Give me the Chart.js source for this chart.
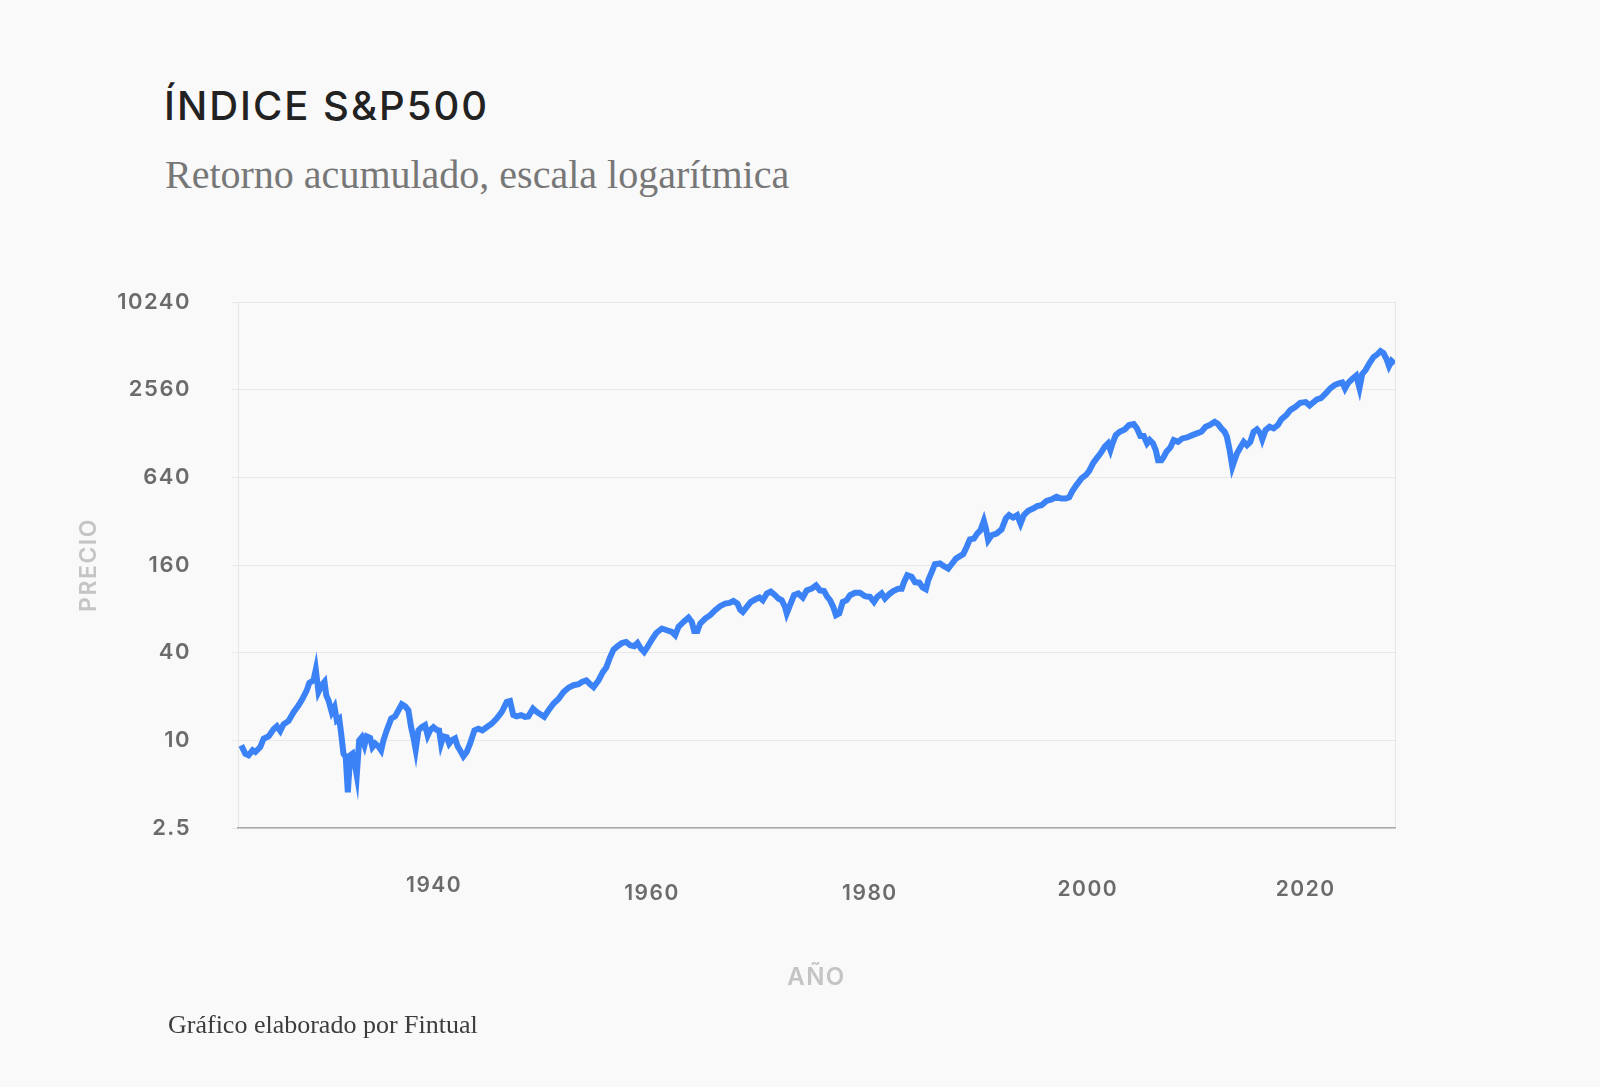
<!DOCTYPE html>
<html lang="es">
<head>
<meta charset="utf-8">
<title>Índice S&amp;P500</title>
<script src="https://cdn.jsdelivr.net/npm/chart.js@4.4.1/dist/chart.umd.min.js"></script>
<style>
  html, body { margin: 0; padding: 0; background: #f9f9f9; }
  body { width: 1600px; height: 1087px; position: relative; overflow: hidden; }
  #grafico { position: absolute; left: 0; top: 0; }
  .titulo { position: absolute; left: 164px; top: 86px; margin: 0; line-height: 1;
    font-family: 'Inter', 'Noto Sans', sans-serif; font-weight: 500; font-size: 40px;
    letter-spacing: 2px; color: #222; }
  .subtitulo { position: absolute; left: 165px; top: 155px; margin: 0; line-height: 1;
    font-family: 'Liberation Serif', 'DejaVu Serif', serif; font-size: 40px; color: #777; }
  .pie { position: absolute; left: 168px; top: 1012px; margin: 0; line-height: 1;
    font-family: 'Liberation Serif', 'DejaVu Serif', serif; font-size: 26px; color: #3c3c3c; }
</style>
</head>
<body>
<h1 class="titulo">ÍNDICE S&amp;P500</h1>
<p class="subtitulo">Retorno acumulado, escala logarítmica</p>
<canvas id="grafico" width="1600" height="1087"></canvas>
<p class="pie">Gráfico elaborado por Fintual</p>
<script>
// Años (posición según el eje del gráfico original) y precio del índice
const anios = [
  1922.30, 1922.67, 1922.97, 1923.34, 1923.59, 1924.04, 1924.35, 1924.81, 1925.26, 1925.57,
  1925.88, 1926.18, 1926.64, 1927.10, 1927.56, 1927.92, 1928.32, 1928.54, 1928.93, 1929.14,
  1929.39, 1929.69, 1929.94, 1930.10, 1930.31, 1930.61, 1930.86, 1931.07, 1931.29, 1931.47,
  1931.68, 1931.89, 1932.08, 1932.30, 1932.51, 1932.69, 1932.90, 1933.12, 1933.36, 1933.61,
  1933.82, 1934.13, 1934.34, 1934.59, 1934.89, 1935.14, 1935.35, 1935.65, 1936.06, 1936.42,
  1936.73, 1937.03, 1937.34, 1937.64, 1937.89, 1938.10, 1938.31, 1938.56, 1938.86, 1939.17,
  1939.41, 1939.63, 1939.94, 1940.24, 1940.46, 1940.64, 1940.85, 1941.16, 1941.38, 1941.61,
  1941.93, 1942.16, 1942.38, 1942.69, 1942.99, 1943.30, 1943.70, 1944.06, 1944.43, 1944.82,
  1945.28, 1945.74, 1946.20, 1946.66, 1946.97, 1947.27, 1947.57, 1947.98, 1948.34, 1948.65,
  1949.08, 1949.45, 1949.75, 1950.11, 1950.51, 1950.97, 1951.43, 1951.88, 1952.34, 1952.80,
  1953.26, 1953.57, 1953.97, 1954.33, 1954.64, 1955.09, 1955.50, 1955.80, 1956.10, 1956.47,
  1956.84, 1957.24, 1957.63, 1958.00, 1958.37, 1958.67, 1958.98, 1959.28, 1959.59, 1959.99,
  1960.39, 1960.91, 1961.37, 1961.82, 1962.13, 1962.43, 1962.89, 1963.35, 1963.66, 1963.87,
  1964.17, 1964.42, 1964.88, 1965.34, 1965.80, 1966.25, 1966.71, 1967.11, 1967.47, 1967.84,
  1968.09, 1968.34, 1968.70, 1969.07, 1969.46, 1969.86, 1970.17, 1970.54, 1970.90, 1971.30,
  1971.60, 1971.91, 1972.21, 1972.37, 1972.67, 1973.04, 1973.43, 1973.84, 1974.20, 1974.66,
  1975.06, 1975.42, 1975.79, 1976.09, 1976.34, 1976.64, 1976.89, 1977.19, 1977.51, 1977.87,
  1978.18, 1978.63, 1979.09, 1979.55, 1980.01, 1980.38, 1980.68, 1981.08, 1981.38, 1981.78,
  1982.15, 1982.60, 1982.92, 1983.13, 1983.43, 1983.83, 1984.14, 1984.53, 1984.84, 1985.14,
  1985.36, 1985.67, 1985.97, 1986.43, 1986.80, 1987.19, 1987.50, 1987.90, 1988.26, 1988.57,
  1988.88, 1989.18, 1989.55, 1989.85, 1990.16, 1990.46, 1990.65, 1990.86, 1991.17, 1991.63,
  1992.09, 1992.48, 1992.78, 1993.15, 1993.52, 1993.83, 1994.13, 1994.53, 1994.98, 1995.35,
  1995.75, 1996.21, 1996.67, 1997.13, 1997.59, 1997.98, 1998.29, 1998.60, 1998.96, 1999.42,
  1999.82, 2000.12, 2000.49, 2000.83, 2001.19, 2001.56, 2001.86, 2002.08, 2002.27, 2002.57,
  2002.93, 2003.39, 2003.79, 2004.22, 2004.52, 2004.83, 2005.14, 2005.44, 2005.69, 2005.99,
  2006.24, 2006.45, 2006.76, 2006.97, 2007.22, 2007.58, 2007.89, 2008.28, 2008.68, 2009.11,
  2009.60, 2010.02, 2010.43, 2010.82, 2011.19, 2011.65, 2011.95, 2012.26, 2012.56, 2012.77,
  2013.02, 2013.27, 2013.48, 2013.69, 2014.00, 2014.31, 2014.61, 2014.92, 2015.22, 2015.53,
  2015.84, 2016.02, 2016.32, 2016.69, 2017.06, 2017.45, 2017.76, 2018.22, 2018.59, 2019.07,
  2019.50, 2020.00, 2020.36, 2020.66, 2021.03, 2021.41, 2021.82, 2022.26, 2022.65, 2023.04,
  2023.36, 2023.61, 2023.89, 2024.27, 2024.64, 2024.94, 2025.19, 2025.50, 2025.86, 2026.23,
  2026.60, 2026.87, 2027.14, 2027.42, 2027.65, 2027.88, 2028.15
];

const precios = [
  9.24, 8.10, 7.89, 8.54, 8.31, 8.99, 10.27, 10.65, 11.9, 12.5,
  11.6, 12.9, 13.6, 15.6, 17.4, 19.3, 22.1, 24.8, 25.8, 30.6,
  21.5, 23.9, 25.2, 20.4, 18.8, 15.6, 16.9, 13.7, 14.1, 11.1,
  8.10, 7.68, 4.39, 7.89, 8.10, 7.09, 5.75, 10.0, 10.5, 9.24,
  10.65, 10.4, 8.99, 9.49, 9.09, 8.54, 10.0, 11.7, 14.1, 14.6,
  16.1, 17.7, 17.1, 16.1, 12.3, 10.5, 8.63, 11.7, 12.3, 12.7,
  10.8, 11.7, 12.3, 11.8, 11.7, 9.49, 10.65, 10.5, 9.49, 10.0,
  10.3, 9.09, 8.54, 7.76, 8.31, 9.49, 11.7, 12.0, 11.7, 12.3,
  13.0, 14.1, 15.6, 18.3, 18.6, 14.9, 14.6, 14.9, 14.5, 14.6,
  16.5, 15.6, 15.1, 14.5, 16.1, 17.9, 19.3, 21.5, 23.0, 23.9,
  24.3, 25.2, 25.8, 24.3, 23.2, 25.8, 29.5, 31.6, 36.4, 42.0,
  44.3, 46.6, 47.4, 45.0, 44.3, 46.6, 42.7, 40.4, 43.8, 49.2,
  54.6, 58.6, 57.0, 55.5, 52.7, 60.1, 65.0, 69.7, 65.0, 56.4,
  56.4, 63.4, 68.6, 72.3, 78.3, 83.4, 87.0, 87.8, 90.6, 87.0,
  79.1, 76.2, 82.4, 89.3, 92.7, 95.7, 91.7, 102, 105, 99.3,
  94.2, 91.7, 82.4, 74.3, 84.7, 99.3, 102, 95.7, 107, 110,
  116, 107, 106, 96.6, 91.7, 82.4, 72.3, 74.3, 89.3, 91.7,
  99.3, 103, 103, 97.7, 96.6, 89.3, 96.6, 102, 94.2, 101,
  106, 110, 110, 122, 136, 133, 122, 121, 112, 109,
  126, 143, 162, 164, 157, 151, 162, 177, 184, 190,
  213, 240, 243, 263, 278, 322, 285, 237, 256, 263,
  281, 334, 352, 339, 352, 308, 352, 377, 391, 406,
  412, 441, 451, 470, 458, 458, 466, 517, 566, 629,
  663, 706, 801, 867, 939, 1040, 1094, 984, 1094, 1247,
  1315, 1366, 1462, 1486, 1387, 1229, 1229, 1094, 1153, 1094,
  984, 840, 840, 885, 958, 1027, 1153, 1123, 1184, 1203,
  1247, 1282, 1315, 1423, 1462, 1540, 1486, 1387, 1315, 1215,
  984, 756, 840, 934, 1027, 1123, 1065, 1123, 1315, 1366,
  1282, 1166, 1351, 1423, 1387, 1462, 1600, 1713, 1853, 1954,
  2081, 2104, 1991, 2081, 2196, 2241, 2400, 2614, 2753, 2828,
  2864, 2605, 2842, 3028, 3200, 2627, 3276, 3490, 3899, 4288,
  4497, 4715, 4570, 4156, 3720, 4026, 3837
];

// Marcas de los ejes
const ticksX = [1940, 1960, 1980, 2000, 2020];
const ticksY = [2.5, 10, 40, 160, 640, 2560, 10240];
const xMin = 1922;
const xMax = 2028.2;

// En el original las etiquetas del eje X no quedan todas a la misma altura
const altoEtiquetaX = { 1940: '24px', 1960: '40px', 1980: '40px', 2000: '32px', 2020: '32px' };

const fuenteEjes = "'Inter', 'Noto Sans', sans-serif";

// Espaciado entre letras de los textos del canvas
const espaciado = {
    id: 'espaciado',
    beforeUpdate(chart) { chart.ctx.letterSpacing = '1.5px'; },
    beforeDraw(chart) { chart.ctx.letterSpacing = '1.5px'; }
};

const ctx = document.getElementById('grafico').getContext('2d');

new Chart(ctx, {
    type: 'line',
    data: {
        datasets: [{
            label: 'S&P500',
            data: anios.map((a, i) => ({ x: a, y: precios[i] })),
            borderColor: '#3b82f6',
            borderWidth: 6,
            pointRadius: 0,
            tension: 0,
            fill: false
        }]
    },
    plugins: [espaciado],
    options: {
        responsive: false,
        animation: false,
        layout: {
            padding: { left: 0, right: 205, top: 302, bottom: 0 }
        },
        plugins: {
            legend: { display: false },
            tooltip: { enabled: false }
        },
        scales: {
            x: {
                type: 'linear',
                min: xMin,
                max: xMax,
                afterBuildTicks: (scale) => {
                    scale.ticks = [xMin, ...ticksX, xMax].map(v => ({ value: v }));
                },
                afterFit: (scale) => { scale.height = 259; },
                grid: {
                    drawTicks: false,
                    color: (c) => (c.tick && (c.tick.value === xMin || c.tick.value === xMax)) ? '#e6e6e6' : 'rgba(0,0,0,0)'
                },
                border: { color: '#a9a9a9', width: 1.5 },
                ticks: {
                    autoSkip: false,
                    maxRotation: 0,
                    padding: 46,
                    color: '#6b6b6b',
                    font: (c) => ({
                        family: fuenteEjes,
                        size: 21,
                        weight: '600',
                        lineHeight: (c.tick && altoEtiquetaX[c.tick.value]) || '24px'
                    }),
                    callback: (v) => ticksX.includes(v) ? String(v) : ''
                },
                title: {
                    display: true,
                    text: 'AÑO',
                    color: '#c4c4c4',
                    font: { family: fuenteEjes, size: 24, weight: '600' },
                    padding: { top: 0, bottom: 95 }
                }
            },
            y: {
                type: 'logarithmic',
                min: 2.5,
                max: 10240,
                afterBuildTicks: (scale) => {
                    scale.ticks = ticksY.map(v => ({ value: v }));
                },
                afterFit: (scale) => { scale.width = 238; },
                grid: {
                    color: '#e8e8e8',
                    tickLength: 6
                },
                border: { display: false },
                ticks: {
                    padding: 41,
                    color: '#6b6b6b',
                    font: { family: fuenteEjes, size: 22, weight: '600' },
                    callback: (v) => String(v)
                },
                title: {
                    display: true,
                    text: 'PRECIO',
                    color: '#c4c4c4',
                    font: { family: fuenteEjes, size: 23, weight: '600' },
                    padding: { top: 75, bottom: 0 }
                }
            }
        }
    }
});
</script>
</body>
</html>
